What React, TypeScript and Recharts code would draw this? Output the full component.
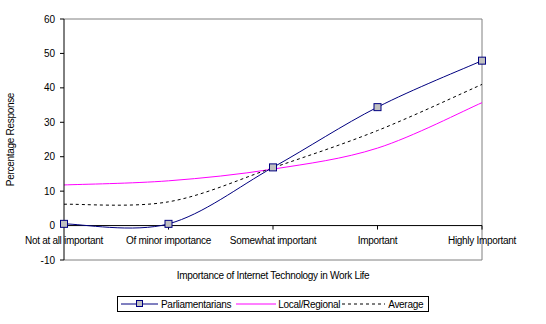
import {
  LineChart, Line, XAxis, YAxis, ReferenceLine, ReferenceDot, Label,
} from 'recharts'

const categories = ['Not at all important', 'Of minor importance', 'Somewhat important', 'Important', 'Highly Important']
const parliamentarians = [0.5, 0.5, 16.9, 34.4, 47.9]
const localRegional = [11.8, 13.0, 16.4, 22.5, 35.7]
const average = [6.2, 6.9, 16.8, 27.6, 41.0]
const yTicks = [-10, 0, 10, 20, 30, 40, 50, 60]

const data = categories.map((cat, i) => ({
  cat,
  parl: parliamentarians[i],
  local: localRegional[i],
  avg: average[i],
}))

const FONT = '"Liberation Sans", Arial, sans-serif'
const LS = -0.3

// Excel-style smoothing (Catmull-Rom through the points)
function excelSmooth(context: any) {
  let pts: number[][] = []
  return {
    areaStart() {},
    areaEnd() {},
    lineStart() { pts = [] },
    point(x: number, y: number) { pts.push([+x, +y]) },
    lineEnd() {
      const n = pts.length
      if (!n) return
      context.moveTo(pts[0][0], pts[0][1])
      for (let i = 0; i < n - 1; i++) {
        const p0 = pts[i - 1] || pts[i]
        const p1 = pts[i]
        const p2 = pts[i + 1]
        const p3 = pts[i + 2] || p2
        context.bezierCurveTo(
          p1[0] + (p2[0] - p0[0]) / 6, p1[1] + (p2[1] - p0[1]) / 6,
          p2[0] - (p3[0] - p1[0]) / 6, p2[1] - (p3[1] - p1[1]) / 6,
          p2[0], p2[1],
        )
      }
    },
  }
}

const SquareDot = (props: any) => {
  const { cx, cy } = props
  if (cx == null || cy == null) return null
  return <rect x={cx - 3.5} y={cy - 3.5} width={7} height={7} fill="#c0c0c0" stroke="#000080" strokeWidth={1} />
}

const LegendBox = () => (
  <div style={{
    position: 'absolute', left: 117, top: 296, width: 312, height: 16,
    border: '1px solid #000', display: 'flex', alignItems: 'center', whiteSpace: 'nowrap',
    fontFamily: FONT, fontSize: 10, letterSpacing: LS, color: '#000', boxSizing: 'border-box', paddingLeft: 3,
  }}>
    <svg width={37} height={10}>
      <line x1={0} y1={5} x2={37} y2={5} stroke="#000080" />
      <rect x={15.5} y={1.5} width={6} height={6} fill="#c0c0c0" stroke="#000080" />
    </svg>
    <span style={{ marginLeft: 3, marginRight: 5 }}>Parliamentarians</span>
    <svg width={40} height={10}>
      <line x1={0} y1={5} x2={40} y2={5} stroke="#ff00ff" />
    </svg>
    <span style={{ marginLeft: 2, marginRight: 2 }}>Local/Regional</span>
    <svg width={43} height={10}>
      <line x1={0} y1={5} x2={43} y2={5} stroke="#000" strokeDasharray="3 3" />
    </svg>
    <span style={{ marginLeft: 3 }}>Average</span>
  </div>
)

export default function App() {
  return (
    <div style={{ position: 'absolute', left: 0, top: 0, width: 546, height: 324, background: '#fff' }}>
      <LineChart width={546} height={324} data={data} margin={{ top: 19, right: 64, bottom: 0, left: 0 }}>
        <XAxis dataKey="cat" height={64} axisLine={false} tickLine={false} tick={false}>
          <Label
            content={(p: any) => {
              const vb = p.viewBox
              return (
                <text x={vb.x + vb.width / 2} y={vb.y + 19} textAnchor="middle" fontSize={10} letterSpacing={LS} fontFamily={FONT} fill="#000">
                  Importance of Internet Technology in Work Life
                </text>
              )
            }}
          />
        </XAxis>
        <YAxis
          width={64}
          domain={[-10, 60]}
          ticks={yTicks}
          interval={0}
          axisLine={{ stroke: '#000' }}
          tickLine={{ stroke: '#000' }}
          tickSize={4}
          tickMargin={5}
          tick={{ fill: '#000', fontSize: 10, fontFamily: FONT }}
        >
          <Label
            content={(p: any) => {
              const vb = p.viewBox
              const cy = vb.y + vb.height / 2
              return (
                <text x={14} y={cy} transform={`rotate(-90, 14, ${cy})`} textAnchor="middle" fontSize={10} letterSpacing={LS} fontFamily={FONT} fill="#000">
                  Percentage Response
                </text>
              )
            }}
          />
        </YAxis>
        <ReferenceLine y={60} stroke="#808080" />
        <ReferenceLine y={-10} stroke="#808080" />
        <ReferenceLine x="Highly Important" stroke="#808080" />
        <ReferenceLine y={0} stroke="#000" />
        {categories.map((c, i) => (
          <ReferenceDot key={c} x={c} y={0} r={0} shape={(p: any) => (
            <g>
              {i > 0 && <line x1={p.cx} y1={p.cy} x2={p.cx} y2={p.cy + 4} stroke="#000" />}
              <text x={p.cx} y={p.cy + 18} textAnchor="middle" fontSize={10} letterSpacing={LS} fontFamily={FONT} fill="#000">{c}</text>
            </g>
          )} />
        ))}
        <Line dataKey="local" type={excelSmooth as any} stroke="#ff00ff" strokeWidth={1} dot={false} isAnimationActive={false} />
        <Line dataKey="avg" type={excelSmooth as any} stroke="#000" strokeWidth={1} strokeDasharray="3 3" dot={false} isAnimationActive={false} />
        <Line dataKey="parl" type={excelSmooth as any} stroke="#000080" strokeWidth={1} dot={<SquareDot />} isAnimationActive={false} />
      </LineChart>
      <LegendBox />
    </div>
  )
}
